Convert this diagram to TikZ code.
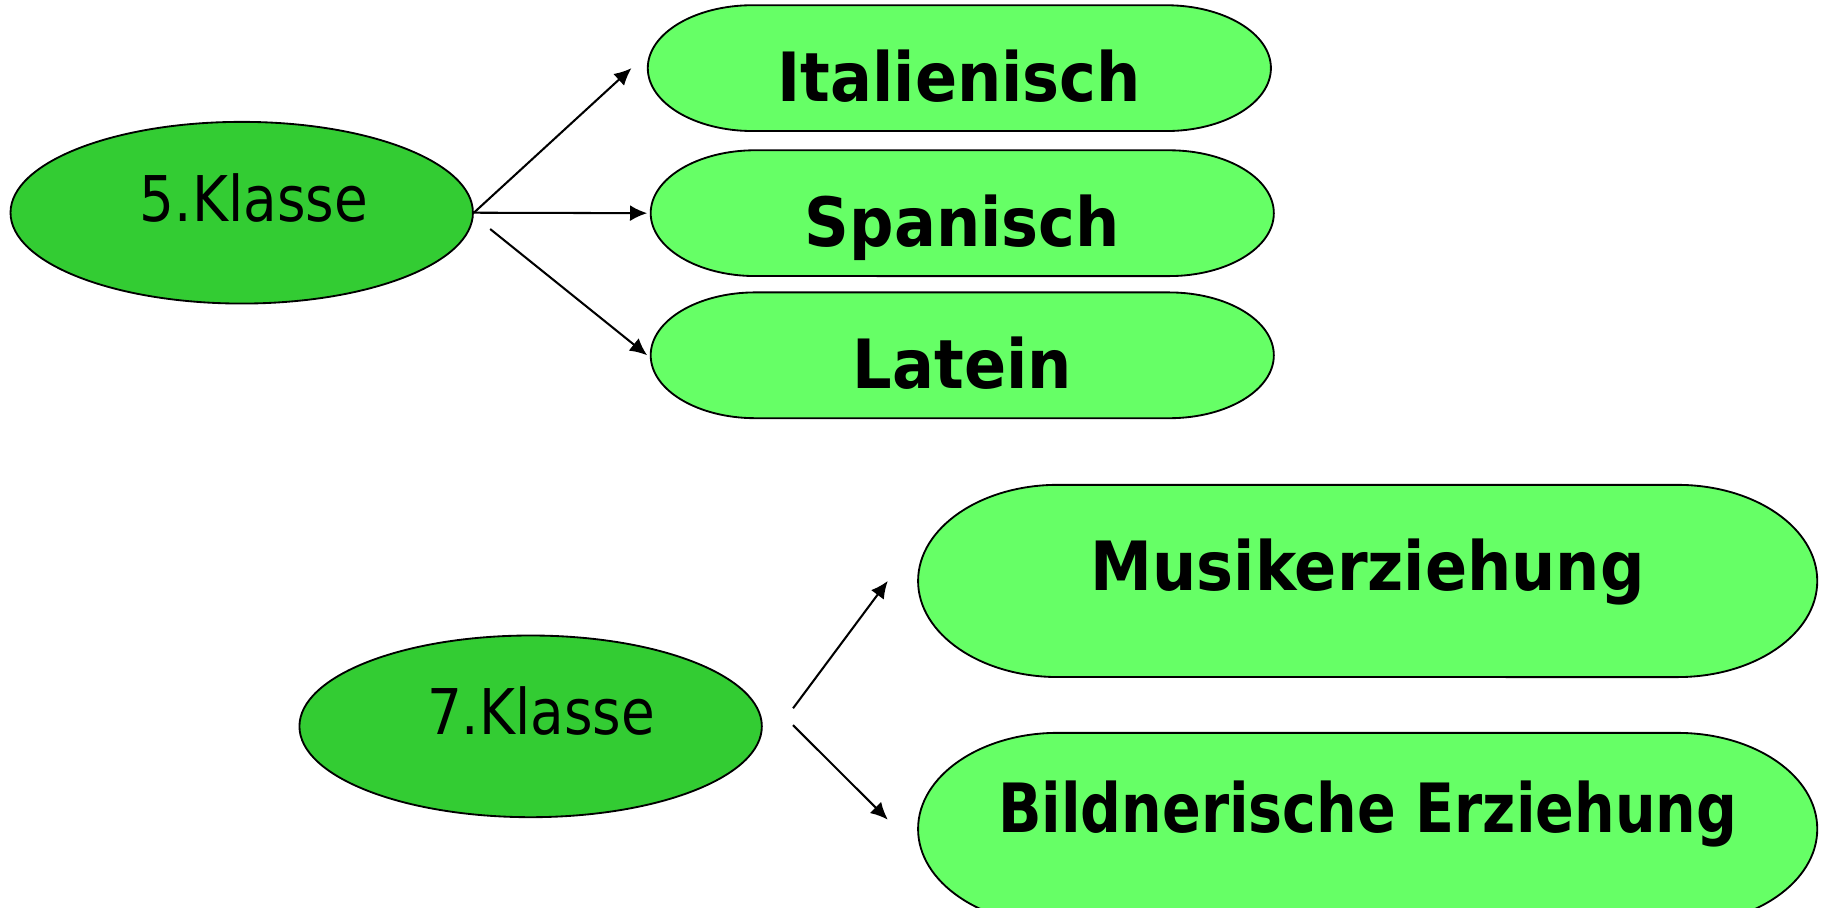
\documentclass[tikz,border=0pt]{standalone}
\usepackage{fontspec}
\setmainfont{DejaVu Sans}
\newfontfamily\subjfont{DejaVu Sans}[FakeStretch=0.915]
\newfontfamily\subjfontnarrow{DejaVu Sans}[FakeStretch=0.84]
\newfontfamily\classfont{DejaVu Sans}[FakeStretch=0.87]
\usetikzlibrary{shapes.geometric,arrows.meta,calc,backgrounds}

\definecolor{klassgreen}{HTML}{33CC33}
\definecolor{subjgreen}{HTML}{66FF66}

\tikzset{
	klasse/.style={ellipse, draw, line width=0.9pt, fill=klassgreen,
		minimum width=7.94cm, minimum height=3.12cm, inner sep=0pt},
	klasstext/.style={font=\classfont\fontsize{30.8}{36}\selectfont,
		text height=22.5pt, text depth=0pt, inner sep=0pt},
	subjtext/.style={font=\subjfont\bfseries\fontsize{33.2}{40}\selectfont,
		text height=24.2pt, text depth=0pt, inner sep=0pt},
	sprache/.style={minimum width=10.7cm, minimum height=2.16cm, inner sep=0pt, outer sep=0pt},
	fach/.style={minimum width=15.44cm, minimum height=3.3cm, inner sep=0pt, outer sep=0pt},
	hull/.style={draw, line width=0.9pt, fill=subjgreen, line join=round},
	pfeil/.style={-{Latex[length=8.4pt,width=7.8pt]}, line width=1pt}
}

\begin{document}
\begin{tikzpicture}[x=0.02cm, y=0.02cm]
			\useasboundingbox (0,0) rectangle (1564,779.4);

			\node[klasse, label={[klasstext, xshift=0.21cm, yshift=0.25cm]center:5.Klasse}] (k5) at (207.5,596.8) {};
			\node[klasse, label={[klasstext, xshift=0.18cm, yshift=0.25cm]center:7.Klasse}] (k7) at (455.5,155.9) {};

			\node[sprache, label={[subjtext, yshift=-0.14cm]center:Italienisch}] (ital) at (823.5,720.9) {};
			\node[sprache, label={[subjtext, yshift=-0.14cm]center:Spanisch}] (span) at (826,596.4) {};
			\node[sprache, label={[subjtext, yshift=-0.14cm]center:Latein}] (lat) at (826,474.4) {};
			\node[fach, label={[subjtext, yshift=0.27cm]center:Musikerziehung}] (musik) at (1174,280.7) {};
			\node[fach, label={[subjtext, font=\subjfontnarrow\bfseries\fontsize{33.2}{40}\selectfont, yshift=0.36cm]center:Bildnerische Erziehung}] (bild) at (1174,67.8) {};

			% the green shells behind the subjects
			\begin{scope}[on background layer]
				\foreach \n/\rx/\ry in {ital/90/54, span/90/54, lat/90/54, musik/120/82.5, bild/120/82.5}
					\draw[hull] ($(\n.north west)+(\rx,0)$) -- ($(\n.north east)+(-\rx,0)$)
						arc[start angle=90, end angle=-90, x radius=\rx, y radius=\ry]
						-- ($(\n.south west)+(\rx,0)$)
						arc[start angle=270, end angle=90, x radius=\rx, y radius=\ry] -- cycle;
			\end{scope}

			\draw[pfeil] (k5.east) -- ($(ital.west)+(-14,0)$);
			\draw[pfeil] (k5.east) -- ($(span.west)+(-3,0)$);
			\draw[pfeil] ($(k5.east)+(14,-14)$) -- ($(lat.west)+(-3,0)$);
			\draw[pfeil] ($(k7.east)+(26,15.5)$) -- ($(musik.west)+(-26,0)$);
			\draw[pfeil] ($(k7.east)+(26,1)$) -- ($(bild.west)+(-26,8)$);
		\end{tikzpicture}
\end{document}
